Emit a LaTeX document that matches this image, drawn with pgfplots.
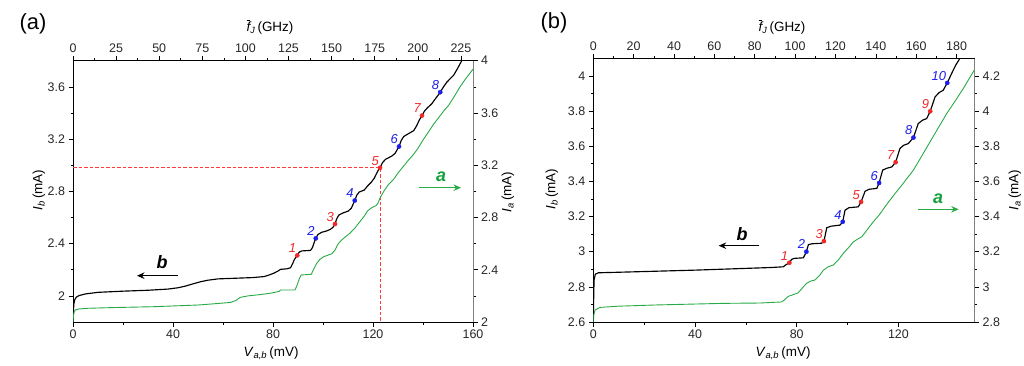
\documentclass[border=0pt]{standalone}
\usepackage{pgfplots}
\pgfplotsset{compat=1.18}
\usepackage{fontspec}
\setmainfont{Liberation Sans}
\usetikzlibrary{arrows.meta}
\definecolor{cgreen}{RGB}{40,170,70}
\definecolor{lgreen}{RGB}{20,160,60}
\definecolor{cred}{RGB}{240,40,40}
\definecolor{cblue}{RGB}{30,30,235}
\definecolor{cdash}{RGB}{255,60,60}
\pgfplotsset{
  base/.style={scale only axis, anchor=south west, tick align=outside,
    major tick length=4.5bp, minor tick length=2.5bp,
    every tick/.style={black, line width=0.6bp},
    axis line style={line width=0.8bp},
    ticklabel style={font=\fontsize{12.5}{14}\selectfont, text=black!85},
    /pgf/number format/assume math mode=true,
    minor tick num=1,
  },
  pts/.style={only marks, mark=*, mark size=2.1bp, color=#1,
    mark options={draw=#1, fill=#1},
    nodes near coords, point meta=explicit symbolic,
    every node near coord/.append style={font=\fontsize{13}{15}\selectfont\itshape,
      text=#1, anchor=south east, inner sep=0.5bp, xshift=-0.5bp, yshift=2bp}},
}
\newcommand{\labfont}{\fontsize{13.5}{15}\selectfont}
\newcommand{\Vlab}{\textit{V}\textsubscript{\textit{a,b}}\,(mV)}
\newcommand{\Iblab}{\textit{I}\textsubscript{\textit{b}}\,(mA)}
\newcommand{\Ialab}{\textit{I}\textsubscript{\textit{a}}\,(mA)}
\newcommand{\flab}{$\overline{\mbox{\itshape f}}_{\mbox{\fontsize{9}{10}\selectfont\itshape J}}$\,(GHz)}
\begin{document}
\begin{tikzpicture}
% ---------------- panel (a) ----------------
\begin{axis}[base, at={(73bp,44bp)}, width=400bp, height=261.3bp,
  xmin=0, xmax=160, ymin=1.8, ymax=3.8,
  axis x line*=bottom, axis y line*=left,
  xtick={0,40,80,120,160}, ytick={2,2.4,2.8,3.2,3.6}]
\addplot[cdash, dash pattern=on 3.5bp off 2bp, line width=1bp] coordinates {(0,2.98) (122.8,2.98) (122.8,1.8)};
\addplot[black, line width=1.15bp] table {
x y
0 1.80
0.15 1.88
0.35 1.94
0.7 1.97
1.3 1.99
2.5 2.003
5 2.015
10 2.027
20 2.036
30 2.043
38 2.052
42 2.062
45 2.075
48 2.092
51 2.108
54 2.12
58 2.13
65 2.135
72 2.14
76.5 2.148
78.5 2.16
80.5 2.175
82 2.19
83 2.203
85.5 2.207
87 2.215
87.8 2.245
88.6 2.28
89.7 2.31
90.5 2.335
91.5 2.344
95 2.348
95.8 2.37
96.5 2.41
97.1 2.44
98.0 2.47
99.5 2.487
101.5 2.497
103 2.51
104 2.525
104.8 2.55
105.5 2.59
106.3 2.618
108 2.635
110 2.648
111.3 2.67
112 2.70
112.7 2.73
113.5 2.77
114.5 2.795
116.5 2.81
118 2.845
119.3 2.87
120.5 2.90
121.5 2.94
122.2 2.965
122.8 2.98
123.8 3.02
125 3.045
127.5 3.07
128.8 3.09
129.7 3.12
130.4 3.143
131.3 3.19
132.3 3.22
134.5 3.245
136.3 3.265
137.4 3.30
138.5 3.345
139.6 3.38
140.6 3.415
141.8 3.44
143.5 3.47
145 3.51
146.2 3.54
146.9 3.559
148.2 3.60
149.5 3.635
151 3.665
152.3 3.69
153.8 3.74
155.5 3.80
};
\addplot[pts=cred] table[meta=l] {
x y l
89.7 2.31 1
104.8 2.55 3
122.8 2.98 5
139.6 3.38 7
};
\addplot[pts=cblue] table[meta=l] {
x y l
97.1 2.44 2
112.7 2.73 4
130.4 3.143 6
146.9 3.559 8
};
\end{axis}
\begin{axis}[base, at={(73bp,44bp)}, width=400bp, height=261.3bp,
  xmin=0, xmax=160, ymin=2, ymax=4,
  axis x line=none, axis y line*=right, y axis line style={black!50},
  ytick={2,2.4,2.8,3.2,3.6,4}]
\addplot[cgreen, line width=0.9bp] table {
x y
0 2.00
0.2 2.05
0.5 2.08
1 2.093
2.5 2.10
6 2.105
15 2.11
32 2.117
50 2.13
58.8 2.143
63 2.15
65.2 2.165
66.8 2.188
70 2.2
75 2.21
78.8 2.22
81 2.228
82.5 2.235
83 2.245
88.8 2.245
89.6 2.28
90.5 2.33
91.3 2.36
95.3 2.365
96.3 2.405
97.5 2.45
98.8 2.48
100.3 2.50
103.5 2.522
104.8 2.55
105.8 2.59
106.8 2.615
108.5 2.645
110.8 2.68
112.8 2.72
114.8 2.769
116.5 2.81
117.8 2.85
119.5 2.875
121.2 2.89
122 2.91
122.8 2.948
124.3 3.0
126.1 3.05
128.1 3.088
130 3.14
132.1 3.19
134 3.235
136.1 3.28
138 3.33
140.1 3.395
142 3.45
144.1 3.51
146.5 3.57
148.5 3.62
150.3 3.66
152 3.71
154.8 3.80
157 3.86
160 3.935
};
\end{axis}
\begin{axis}[base, at={(73bp,44bp)}, width=400bp, height=261.3bp,
  xmin=0, xmax=232, ymin=0, ymax=1,
  axis x line*=top, axis y line=none,
  xtick={0,25,50,75,100,125,150,175,200,225}]
\end{axis}
% ---------------- panel (b) ----------------
\begin{axis}[base, at={(593.3bp,44bp)}, width=381.4bp, height=263.7bp,
  xmin=0, xmax=150, ymin=2.6, ymax=4.1,
  axis x line*=bottom, axis y line*=left,
  xtick={0,40,80,120}, ytick={2.6,2.8,3,3.2,3.4,3.6,3.8,4}]
\addplot[black, line width=1.15bp] table {
x y
0 2.60
0.1 2.70
0.3 2.84
0.8 2.872
2 2.88
10 2.883
20 2.887
40 2.895
60 2.905
70 2.91
74.7 2.914
75.7 2.925
77.1 2.937
78 2.956
79 2.962
82.6 2.965
83.3 2.985
83.8 3.0
84.6 3.04
86 3.045
89.8 3.048
90.7 3.06
91.3 3.10
91.8 3.136
93.5 3.145
97 3.151
98.1 3.17
99 3.236
100.5 3.25
104.2 3.255
105.3 3.283
106.9 3.344
108.5 3.355
111.5 3.36
112.4 3.391
113.8 3.464
115.5 3.475
117.4 3.482
118.9 3.509
120.6 3.587
122 3.605
123.9 3.615
125.9 3.649
127.8 3.729
129.5 3.748
131.1 3.757
132.5 3.799
134.4 3.88
136 3.905
137.6 3.918
139.2 3.96
140.9 4.013
142.5 4.06
144.2 4.10
};
\addplot[pts=cred] table[meta=l] {
x y l
77.1 2.937 1
90.7 3.06 3
105.3 3.283 5
118.9 3.509 7
132.5 3.799 9
};
\addplot[pts=cblue] table[meta=l] {
x y l
83.8 3.0 2
98.1 3.17 4
112.4 3.391 6
125.9 3.649 8
139.2 3.96 10
};
\end{axis}
\begin{axis}[base, at={(593.3bp,44bp)}, width=381.4bp, height=263.7bp,
  xmin=0, xmax=150, ymin=2.8, ymax=4.3,
  axis x line=none, axis y line*=right, y axis line style={black!50},
  ytick={2.8,3,3.2,3.4,3.6,3.8,4,4.2}]
\addplot[cgreen, line width=0.9bp] table {
x y
0 2.80
0.2 2.84
0.7 2.868
2.6 2.883
10 2.89
24.9 2.897
51.1 2.906
65.6 2.908
74.1 2.914
75.5 2.93
76.7 2.946
79.3 2.959
80.5 2.965
82 2.99
83.9 3.02
85.5 3.033
87.2 3.039
89 3.065
90.5 3.095
92.5 3.115
94.4 3.124
96.5 3.155
98.3 3.19
100.5 3.225
102.3 3.256
104 3.272
105.6 3.285
108 3.33
110.1 3.37
112.5 3.41
114.7 3.455
116.5 3.49
118.7 3.531
121.3 3.578
125.9 3.664
129 3.74
132.4 3.824
135.5 3.9
139 3.986
142 4.05
145.5 4.128
149.8 4.232
};
\end{axis}
\begin{axis}[base, at={(593.3bp,44bp)}, width=381.4bp, height=263.7bp,
  xmin=0, xmax=189, ymin=0, ymax=1,
  axis x line*=top, axis y line=none,
  xtick={0,20,40,60,80,100,120,140,160,180}]
\end{axis}
% ---------------- annotations ----------------
\node[font=\fontsize{22}{24}\selectfont] at (33bp,342bp) {(a)};
\node[font=\fontsize{22}{24}\selectfont] at (554bp,343bp) {(b)};
\node[font=\labfont] at (271bp,13bp) {\Vlab};
\node[font=\labfont] at (783bp,13bp) {\Vlab};
\node[font=\labfont] at (270bp,339bp) {\flab};
\node[font=\labfont] at (782bp,339bp) {\flab};
\node[font=\labfont, rotate=90] at (39bp,176bp) {\Iblab};
\node[font=\labfont, rotate=90] at (508bp,174bp) {\Ialab};
\node[font=\labfont, rotate=90] at (552bp,177bp) {\Iblab};
\node[font=\labfont, rotate=90] at (1015bp,176bp) {\Ialab};
\draw[black, line width=1.1bp, -{Stealth[length=7.5bp,width=6.5bp]}] (178bp,90.3bp) -- (137bp,90.3bp);
\node[font=\fontsize{18}{20}\selectfont\bfseries\itshape] at (162bp,103.5bp) {b};
\draw[cgreen, line width=1.1bp, -{Stealth[length=7.5bp,width=6.5bp]}] (419bp,178.3bp) -- (461bp,178.3bp);
\node[text=lgreen, font=\fontsize{18}{20}\selectfont\bfseries\itshape] at (441bp,189.3bp) {a};
\draw[black, line width=1.1bp, -{Stealth[length=7.5bp,width=6.5bp]}] (759.3bp,120.3bp) -- (718.7bp,120.3bp);
\node[font=\fontsize{18}{20}\selectfont\bfseries\itshape] at (742bp,132bp) {b};
\draw[cgreen, line width=1.1bp, -{Stealth[length=7.5bp,width=6.5bp]}] (918bp,156.7bp) -- (958.7bp,156.7bp);
\node[text=lgreen, font=\fontsize{18}{20}\selectfont\bfseries\itshape] at (938bp,167.7bp) {a};
\pgfresetboundingbox
\path[use as bounding box] (0,0) rectangle (1024bp,366bp);
\end{tikzpicture}
\end{document}
